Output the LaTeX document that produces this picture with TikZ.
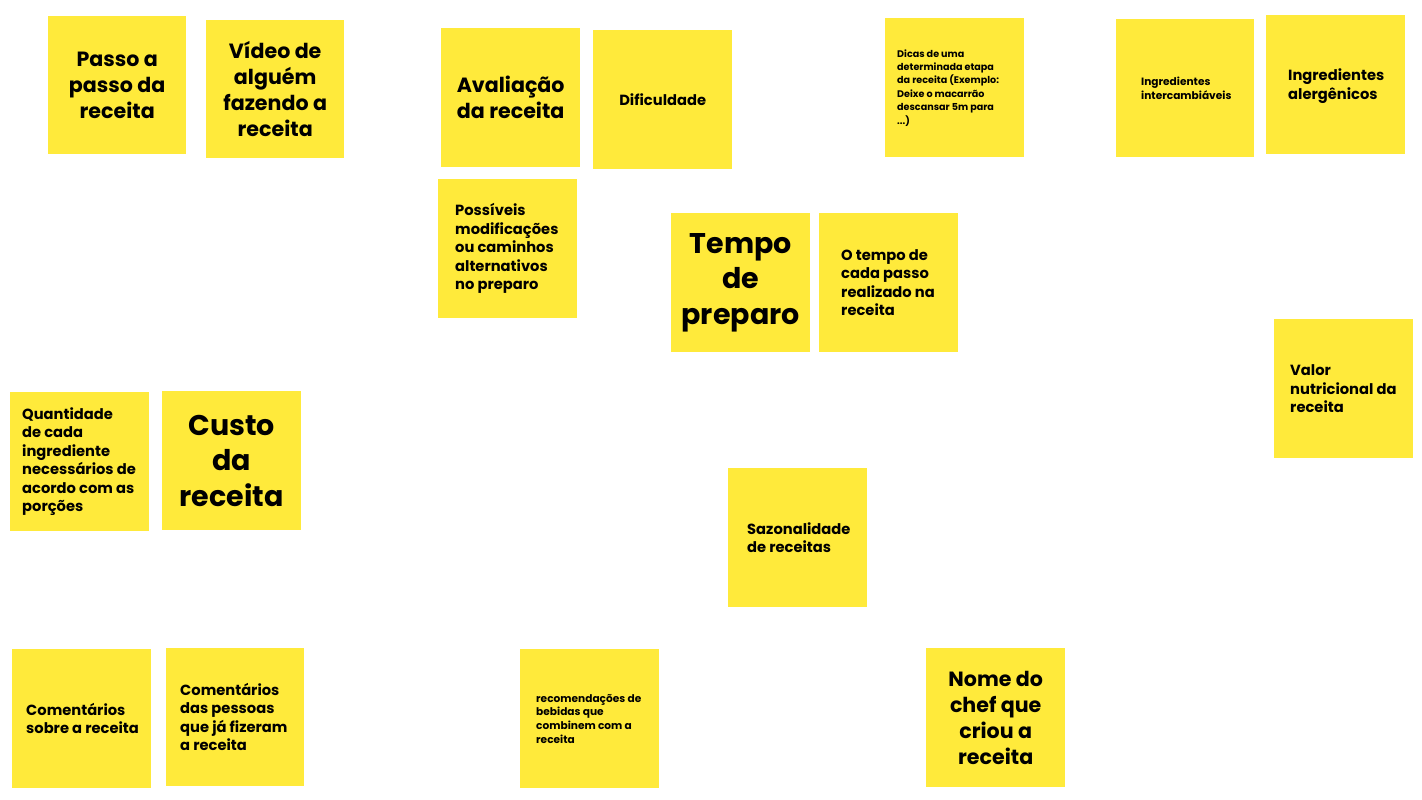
\documentclass[tikz,border=0pt]{standalone}
\usepackage{fontspec}
\setmainfont{Poppins}
\definecolor{note}{RGB}{255,234,59}
\tikzset{
  x=1pt,y=-1pt,
  notebox/.style={fill=note,draw=none,anchor=north west,inner sep=0pt,minimum width=139pt,minimum height=139pt},
  lt/.style={anchor=west,align=left,inner sep=0pt,font=\bfseries},
  ct/.style={anchor=center,align=center,inner sep=0pt,font=\bfseries},
  fhuge/.style={font=\bfseries\fontsize{28.5}{35.5}\selectfont},
  fbig/.style={font=\bfseries\fontsize{20.6}{26}\selectfont},
  fmid/.style={font=\bfseries\fontsize{14.7}{18.5}\selectfont},
  fsmall/.style={font=\bfseries\fontsize{9.6}{13.4}\selectfont},
  ftiny/.style={font=\bfseries\fontsize{10.6}{13.6}\selectfont},
}
\begin{document}
\begin{tikzpicture}
\useasboundingbox (0,0) rectangle (1422,800);
\fill[white] (0,0) rectangle (1422,800);
% notes
\node[notebox,minimum width=138pt,minimum height=138pt] (n1) at (48,16) {};
\node[notebox,minimum width=138pt,minimum height=138pt] (n2) at (206,20) {};
\node[notebox] (n3) at (441,28) {};
\node[notebox] (n4) at (593,30) {};
\node[notebox] (n5) at (885,18) {};
\node[notebox,minimum width=138pt,minimum height=138pt] (n6) at (1116,19) {};
\node[notebox] (n7) at (1266,15) {};
\node[notebox] (n8) at (438,179) {};
\node[notebox] (n9) at (671,213) {};
\node[notebox] (n10) at (819,213) {};
\node[notebox] (n11) at (1274,319) {};
\node[notebox] (n12) at (10,392) {};
\node[notebox] (n13) at (162,391) {};
\node[notebox] (n14) at (728,468) {};
\node[notebox] (n15) at (12,649) {};
\node[notebox,minimum width=138pt,minimum height=138pt] (n16) at (166,648) {};
\node[notebox] (n17) at (520,649) {};
\node[notebox] (n18) at (926,648) {};
% texts
\node[ct,fbig] (t1) at (n1.center) {Passo a\\passo da\\receita};
\node[ct,fbig] (t2) at (n2.center) {Vídeo de\\alguém\\fazendo a\\receita};
\node[ct,fbig] (t3) at (n3.center) {Avaliação\\da receita};
\node[ct,fmid] (t4) at (n4.center) {Dificuldade};
\node[lt,fsmall] (t5) at ([xshift=12pt]n5.west) {Dicas de uma\\determinada etapa\\da receita (Exemplo:\\Deixe o macarrão\\descansar 5m para\\...)};
\node[lt,ftiny] (t6) at ([xshift=25pt]n6.west) {Ingredientes\\intercambiáveis};
\node[lt,fmid] (t7) at ([xshift=22pt,yshift=-1.5pt]n7.west) {Ingredientes\\alergênicos};
\node[lt,fmid] (t8) at ([xshift=17pt]n8.west) {Possíveis\\modificações\\ou caminhos\\alternativos\\no preparo};
\node[ct,fhuge] (t9) at (n9.center) {Tempo\\de\\preparo};
\node[lt,fmid] (t10) at ([xshift=22pt]n10.west) {O tempo de\\cada passo\\realizado na\\receita};
\node[lt,fmid] (t11) at ([xshift=16pt]n11.west) {Valor\\nutricional da\\receita};
\node[lt,fmid] (t12) at ([xshift=12pt]n12.west) {Quantidade\\de cada\\ingrediente\\necessários de\\acordo com as\\porções};
\node[ct,fhuge] (t13) at (n13.center) {Custo\\da\\receita};
\node[lt,fmid] (t14) at ([xshift=19pt]n14.west) {Sazonalidade\\de receitas};
\node[lt,fmid] (t15) at ([xshift=14pt]n15.west) {Comentários\\sobre a receita};
\node[lt,fmid] (t16) at ([xshift=14pt]n16.west) {Comentários\\das pessoas\\que já fizeram\\a receita};
\node[lt,ftiny] (t17) at ([xshift=16pt]n17.west) {recomendações de\\bebidas que\\combinem com a\\receita};
\node[ct,fbig] (t18) at (n18.center) {Nome do\\chef que\\criou a\\receita};
\end{tikzpicture}
\end{document}
